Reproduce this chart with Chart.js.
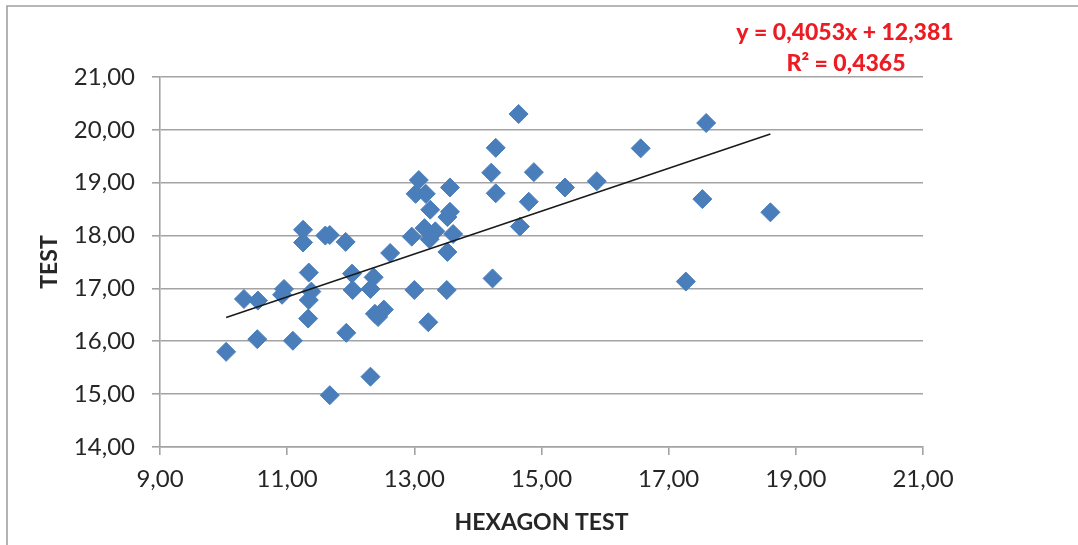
<!DOCTYPE html>
<html>
<head>
<meta charset="utf-8">
<style>
  html, body { margin: 0; padding: 0; background: #ffffff; }
  #wrap { width: 1078px; height: 545px; position: relative; }
</style>
<script src="https://cdn.jsdelivr.net/npm/chart.js@4.4.1/dist/chart.umd.min.js"></script>
</head>
<body>
<div id="wrap"><canvas id="c" width="1078" height="545"></canvas></div>
<script>
// HEXAGON TEST score (x) and TEST score (y) for each subject
const hexagonScores = [
  10.04, 10.32, 10.54, 10.53, 10.95, 10.92, 11.09, 11.25, 11.25, 11.34,
  11.38, 11.34, 11.33, 11.60, 11.67, 11.92, 12.02, 12.03, 11.93, 11.67,
  12.31, 12.31, 12.36, 12.38, 12.43, 12.52, 12.62, 12.96, 13.00, 13.07,
  13.02, 13.18, 13.25, 13.16, 13.33, 13.24, 13.22, 13.56, 13.56, 13.52,
  13.61, 13.52, 13.51, 14.21, 14.28, 14.28, 14.64, 14.66, 14.23, 14.80,
  14.88, 15.37, 15.87, 16.56, 17.27, 17.53, 17.59, 18.60
];
const testScores = [
  15.80, 16.80, 16.77, 16.04, 16.99, 16.88, 16.01, 18.11, 17.87, 17.30,
  16.94, 16.78, 16.43, 18.00, 18.01, 17.88, 17.28, 16.97, 16.16, 14.98,
  15.33, 16.99, 17.21, 16.52, 16.46, 16.60, 17.67, 17.98, 16.97, 19.05,
  18.79, 18.79, 18.49, 18.14, 18.08, 17.93, 16.36, 18.91, 18.45, 18.35,
  18.03, 17.69, 16.97, 19.19, 19.66, 18.80, 20.30, 18.17, 17.19, 18.64,
  19.20, 18.91, 19.03, 19.65, 17.13, 18.69, 20.13, 18.44
];

// Linear trend line as reported on the chart
const trendSlope = 0.4053;
const trendIntercept = 12.381;
const trendEquation = 'y = 0,4053x + 12,381';
const trendR2 = 'R\u00B2 = 0,4365';

// Axis tick labels (decimal comma)
const xTickValues = [9, 11, 13, 15, 17, 19, 21];
const xTickLabels = ['9,00', '11,00', '13,00', '15,00', '17,00', '19,00', '21,00'];
const yTickValues = [14, 15, 16, 17, 18, 19, 20, 21];
const yTickLabels = ['14,00', '15,00', '16,00', '17,00', '18,00', '19,00', '20,00', '21,00'];

const xTitle = 'HEXAGON TEST';
const yTitle = 'TEST';

const scatterPoints = hexagonScores.map((x, i) => ({ x: x, y: testScores[i] }));
const xMinData = Math.min(...hexagonScores);
const xMaxData = Math.max(...hexagonScores);
const trendPoints = [
  { x: xMinData, y: trendSlope * xMinData + trendIntercept },
  { x: xMaxData, y: trendSlope * xMaxData + trendIntercept }
];

const GRID = '#a3a3a3';
const TEXT = '#262626';
const FONT = 'Lato, "Open Sans", sans-serif';

// Outer frame of the chart object (top and left edges)
const framePlugin = {
  id: 'frame',
  beforeDraw(chart) {
    const ctx = chart.ctx;
    ctx.save();
    ctx.fillStyle = '#ffffff';
    ctx.fillRect(0, 0, chart.width, chart.height);
    ctx.strokeStyle = '#a0a0a0';
    ctx.lineWidth = 1.6;
    ctx.beginPath();
    ctx.moveTo(7, chart.height);
    ctx.lineTo(7, 6);
    ctx.lineTo(chart.width, 6);
    ctx.stroke();
    ctx.restore();
  }
};

// Trend line equation and R² label
const equationPlugin = {
  id: 'equation',
  afterDraw(chart) {
    const ctx = chart.ctx;
    ctx.save();
    ctx.fillStyle = '#ec1c24';
    ctx.font = '900 23px ' + FONT;
    ctx.textAlign = 'center';
    ctx.textBaseline = 'middle';
    ctx.fillText(trendEquation, 845, 33);
    ctx.fillText(trendR2, 846, 64);
    ctx.restore();
  }
};

new Chart(document.getElementById('c'), {
  type: 'scatter',
  data: {
    datasets: [
      {
        type: 'line',
        label: 'Trend',
        data: trendPoints,
        borderColor: '#1a1a1a',
        borderWidth: 1.6,
        pointRadius: 0,
        fill: false,
        order: 0
      },
      {
        label: 'TEST',
        data: scatterPoints,
        pointStyle: 'rectRot',
        pointRadius: 9.5,
        backgroundColor: '#4a7ebb',
        borderColor: '#4a7ebb',
        borderWidth: 1,
        order: 1
      }
    ]
  },
  options: {
    responsive: false,
    animation: false,
    events: [],
    layout: { padding: { left: 8, right: 155, top: 77, bottom: 0 } },
    plugins: {
      legend: { display: false },
      tooltip: { enabled: false }
    },
    scales: {
      x: {
        type: 'linear',
        min: 9,
        max: 21,
        afterBuildTicks(scale) {
          scale.ticks = xTickValues.map(v => ({ value: v }));
        },
        afterFit(scale) { scale.height = 98; },
        ticks: {
          color: TEXT,
          font: { family: FONT, size: 24 },
          padding: 10,
          maxRotation: 0,
          callback: (v, i) => xTickLabels[i]
        },
        grid: {
          drawOnChartArea: false,
          drawTicks: true,
          tickLength: 8,
          color: GRID,
          lineWidth: 1.6
        },
        border: { display: true, color: GRID, width: 1.6 },
        title: {
          display: true,
          text: xTitle,
          color: TEXT,
          font: { family: FONT, size: 23, weight: 'bold' },
          padding: { top: 0, bottom: 9 }
        }
      },
      y: {
        type: 'linear',
        min: 14,
        max: 21,
        afterBuildTicks(scale) {
          scale.ticks = yTickValues.map(v => ({ value: v }));
        },
        afterFit(scale) { scale.width = 152; },
        ticks: {
          color: TEXT,
          font: { family: FONT, size: 24 },
          padding: 17,
          callback: (v, i) => yTickLabels[i]
        },
        grid: {
          drawOnChartArea: true,
          drawTicks: true,
          tickLength: 8,
          color: GRID,
          lineWidth: 1.6
        },
        border: { display: true, color: GRID, width: 1.6 },
        title: {
          display: true,
          text: yTitle,
          color: TEXT,
          font: { family: FONT, size: 23, weight: 'bold' },
          padding: { top: 28, bottom: 0 }
        }
      }
    }
  },
  plugins: [framePlugin, equationPlugin]
});
</script>
</body>
</html>
